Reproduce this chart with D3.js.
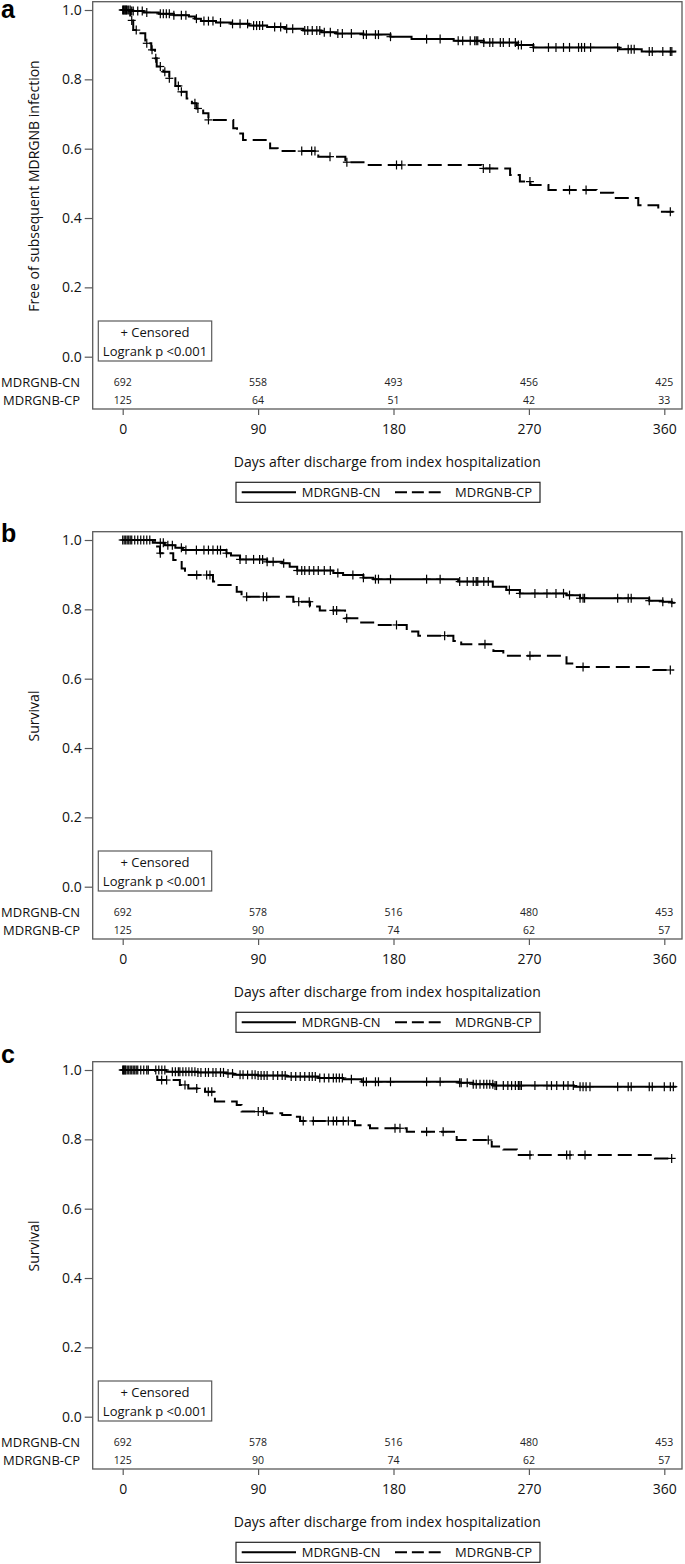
<!DOCTYPE html>
<html>
<head>
<meta charset="utf-8">
<script src="https://cdn.jsdelivr.net/npm/d3@7"></script>
<style>
  html, body { margin: 0; padding: 0; background: #fff; }
  svg { display: block; }
  text { font-family: "Open Sans", "Noto Sans", sans-serif; fill: #111; }
</style>
</head>
<body>
<svg id="chart" width="685" height="1564"></svg>
<script>
// ---------------- DATA ----------------
const panelLabels = ["a", "b", "c"];
const yTitles = ["Free of subsequent MDRGNB infection", "Survival", "Survival"];
const xTickValues = [0, 90, 180, 270, 360];
const yTickValues = [0, 0.2, 0.4, 0.6, 0.8, 1.0];
const groupNames = ["MDRGNB-CN", "MDRGNB-CP"];
const xTitle = "Days after discharge from index hospitalization";
const boxLines = ["+ Censored", "Logrank p <0.001"];

// numbers at risk
const atRiskA_CN = [692, 558, 493, 456, 425];
const atRiskA_CP = [125, 64, 51, 42, 33];
const atRiskB_CN = [692, 578, 516, 480, 453];
const atRiskB_CP = [125, 90, 74, 62, 57];
const atRiskC_CN = [692, 578, 516, 480, 453];
const atRiskC_CP = [125, 90, 74, 62, 57];

// Panel a – MDRGNB-CN
const timesA_CN = [0, 6, 14, 24, 34, 44, 48, 52, 62, 72, 84, 96, 108, 120, 132, 142, 160, 178, 192, 220, 240, 262, 273, 330, 345];
const survA_CN  = [1.0, 0.997, 0.993, 0.989, 0.985, 0.981, 0.975, 0.968, 0.964, 0.960, 0.955, 0.951, 0.946, 0.941, 0.936, 0.932, 0.929, 0.923, 0.916, 0.911, 0.906, 0.899, 0.892, 0.887, 0.880];
const censA_CN  = [0, 0.5, 1, 1.5, 2, 2.5, 3, 4, 5, 6, 7, 10, 13, 16, 25, 27, 29, 31, 34, 39, 42, 49, 54, 57, 60, 65, 73, 78, 83, 87, 89, 91, 93, 101, 105, 109, 113, 121, 123, 126, 129, 131, 134, 138, 143, 146, 152, 160, 162, 168, 170, 178, 202, 211, 223, 226, 231, 234, 235, 236, 240, 244, 246, 251, 253, 257, 261, 263, 265, 273, 283, 288, 293, 297, 303, 305, 307, 311, 329, 336, 338, 340, 350, 352, 359, 364, 365];
const endA_CN = 368;

// Panel a – MDRGNB-CP
const timesA_CP = [0, 5, 7, 10, 15, 19, 21.5, 22.6, 27, 31, 35, 39, 42.5, 46, 49, 53.5, 57, 73.5, 76, 80, 98, 103, 130, 148, 162, 238.6, 257.5, 264, 271, 283, 315, 326, 342.7, 356];
const survA_CP  = [1.0, 0.97, 0.942, 0.933, 0.904, 0.885, 0.861, 0.837, 0.822, 0.803, 0.781, 0.764, 0.745, 0.731, 0.716, 0.702, 0.683, 0.659, 0.644, 0.625, 0.601, 0.593, 0.577, 0.561, 0.553, 0.543, 0.524, 0.505, 0.495, 0.481, 0.473, 0.458, 0.437, 0.418];
const censA_CP  = [6, 9, 16, 19.5, 22, 25, 28, 31, 37, 39, 48, 50, 57, 119, 125.6, 127.8, 137.8, 149, 182, 185.5, 239.7, 244, 270.7, 297, 308, 364];
const endA_CP = 366;

// Panel b – MDRGNB-CN
const timesB_CN = [0, 20, 28, 35, 40, 69, 72, 78, 96, 106, 111, 116, 140, 146.5, 160, 166.6, 223, 246, 255, 264, 295, 304, 350, 359, 365];
const survB_CN  = [1.0, 0.992, 0.985, 0.978, 0.971, 0.962, 0.955, 0.944, 0.937, 0.933, 0.923, 0.912, 0.905, 0.899, 0.891, 0.887, 0.880, 0.865, 0.856, 0.846, 0.841, 0.832, 0.825, 0.822, 0.819];
const censB_CN  = [0, 1, 2, 3, 4, 5, 6, 8, 10, 12, 14, 16, 18, 25, 27, 30, 33, 39, 42, 49, 54, 57, 60, 63, 65, 69, 78, 82, 87, 91, 93, 96, 100, 107, 116, 119, 121, 124, 127, 130, 134, 138, 143, 153, 160, 168, 170, 178, 202, 211, 224, 229, 233, 235, 236, 240, 243, 257, 264, 274, 282, 288, 293, 297, 304, 306, 307, 329, 336, 338, 350, 359, 365];
const endB_CN = 367;

// Panel b – MDRGNB-CP
const timesB_CP = [0, 21.5, 24.8, 33.6, 39.2, 41.4, 60, 63.6, 75.8, 79, 113.4, 124.5, 131, 147.8, 157.7, 168.8, 188.8, 196.5, 219.8, 225, 246.4, 253, 295, 299.5, 352.7];
const survB_CP  = [1.0, 0.981, 0.962, 0.942, 0.918, 0.899, 0.880, 0.870, 0.851, 0.836, 0.822, 0.808, 0.797, 0.774, 0.762, 0.755, 0.736, 0.724, 0.709, 0.699, 0.680, 0.666, 0.644, 0.634, 0.625];
const censB_CP  = [25, 49.2, 55.8, 58, 82.4, 93.5, 95.7, 117, 124, 140, 142.2, 148.9, 182, 214, 240.8, 270.7, 306, 364];
const endB_CP = 366;

// Panel c – MDRGNB-CN
const timesC_CN = [0, 29, 50, 69, 73.5, 90, 109, 130, 146.5, 158.9, 224, 233, 246.4, 300];
const survC_CN  = [1.0, 0.995, 0.993, 0.990, 0.986, 0.984, 0.981, 0.977, 0.973, 0.966, 0.963, 0.959, 0.955, 0.952];
const censC_CN  = [0, 0.5, 1, 1.5, 2, 3, 4, 5, 6, 7, 8, 9, 10, 12, 14, 16, 17, 22, 24, 26, 28, 33, 35, 37, 38, 40, 42, 44, 46, 48, 50, 52, 55, 57, 60, 62, 65, 67, 70, 73, 78, 80, 83, 86, 88, 90, 92, 94, 96, 100, 103, 106, 108, 112, 115, 118, 121, 124, 126, 128, 131, 134, 137, 140, 142, 144, 146, 152, 160, 162, 168, 170, 178, 202, 211, 224, 225, 229, 233, 235, 237.5, 240, 242, 244, 246, 247.5, 248.5, 253, 256, 258.5, 261, 263, 264, 265, 274, 282, 285, 288.5, 293, 296, 299.5, 304, 306, 308, 310.6, 329, 336, 338, 350, 352, 360, 364, 366];
const endC_CN = 368;

// Panel c – MDRGNB-CP
const timesC_CP = [0, 21.5, 23, 38, 43.6, 54.7, 61.3, 75.8, 79, 95.7, 106, 113.4, 117.9, 154.4, 164.4, 188.8, 222, 245.3, 253, 262, 353.8];
const survC_CP  = [1.0, 0.981, 0.971, 0.957, 0.947, 0.937, 0.909, 0.899, 0.880, 0.875, 0.870, 0.865, 0.853, 0.841, 0.832, 0.822, 0.798, 0.779, 0.771, 0.755, 0.745];
const censC_CP  = [25.9, 29.2, 41.4, 49.2, 56.9, 59.2, 90.1, 93.5, 120, 126.7, 136.7, 140, 142.2, 146.6, 150, 181, 184.3, 202, 213, 243, 270.7, 295.1, 297.3, 307.3, 364.9];
const endC_CP = 366;

// ---------------- BUILD ----------------
const panels = [
  { label: panelLabels[0], yTitle: yTitles[0], risk: [atRiskA_CN, atRiskA_CP],
    curves: [
      { times: timesA_CN, surv: survA_CN, cens: censA_CN, end: endA_CN, dashed: false },
      { times: timesA_CP, surv: survA_CP, cens: censA_CP, end: endA_CP, dashed: true } ] },
  { label: panelLabels[1], yTitle: yTitles[1], risk: [atRiskB_CN, atRiskB_CP],
    curves: [
      { times: timesB_CN, surv: survB_CN, cens: censB_CN, end: endB_CN, dashed: false },
      { times: timesB_CP, surv: survB_CP, cens: censB_CP, end: endB_CP, dashed: true } ] },
  { label: panelLabels[2], yTitle: yTitles[2], risk: [atRiskC_CN, atRiskC_CP],
    curves: [
      { times: timesC_CN, surv: survC_CN, cens: censC_CN, end: endC_CN, dashed: false },
      { times: timesC_CP, surv: survC_CP, cens: censC_CP, end: endC_CP, dashed: true } ] }
];

// layout
const panelOffsets = [0, 530, 1060];
const labelBaselines = [18, 542, 1063];
const frame = { left: 92.7, right: 682, top: 1.7, bottom: 409 };
const frameColor = "#5a5a5a";
const DASH = "14,6";

const svg = d3.select("#chart");
const x = d3.scaleLinear().domain([0, 360]).range([122.7, 664.3]);

function survAt(times, surv, t) {
  const i = d3.bisectRight(times, t) - 1;
  return surv[Math.max(0, i)];
}

panels.forEach((p, pi) => {
  const oy = panelOffsets[pi];
  const g = svg.append("g").attr("transform", `translate(0,${oy})`);
  const y = d3.scaleLinear().domain([0, 1]).range([356.7, 10]);

  // panel label
  svg.append("text")
    .attr("x", 1).attr("y", labelBaselines[pi])
    .style("font-family", "'Liberation Sans', Arial, sans-serif")
    .style("font-weight", "bold").style("font-size", "25px")
    .style("fill", "#000")
    .text(p.label);

  // frame
  g.append("rect")
    .attr("x", frame.left).attr("y", frame.top)
    .attr("width", frame.right - frame.left).attr("height", frame.bottom - frame.top)
    .attr("fill", "none").attr("stroke", frameColor).attr("stroke-width", 1.3);

  // y axis
  const yAxis = d3.axisLeft(y).tickValues(yTickValues).tickFormat(d3.format(".1f")).tickSize(8).tickPadding(3);
  const ya = g.append("g").attr("transform", `translate(${frame.left},0)`).call(yAxis);
  ya.select(".domain").remove();
  ya.selectAll(".tick line").attr("stroke", frameColor).attr("stroke-width", 1.2);
  ya.selectAll(".tick text").style("font-size", "14px").style("font-family", "'Open Sans', sans-serif").attr("fill", "#111");

  // x axis
  const xAxis = d3.axisBottom(x).tickValues(xTickValues).tickFormat(d3.format("d")).tickSize(6).tickPadding(9);
  const xa = g.append("g").attr("transform", `translate(0,${frame.bottom})`).call(xAxis);
  xa.select(".domain").remove();
  xa.selectAll(".tick line").attr("stroke", frameColor).attr("stroke-width", 1.2);
  xa.selectAll(".tick text").style("font-size", "14px").style("font-family", "'Open Sans', sans-serif").attr("fill", "#111");

  // y title
  g.append("text")
    .attr("transform", `translate(33,186) rotate(-90)`)
    .attr("text-anchor", "middle").attr("dominant-baseline", "central")
    .style("font-size", "14px")
    .text(p.yTitle);

  // x title
  g.append("text")
    .attr("x", (frame.left + frame.right) / 2).attr("y", 461)
    .attr("text-anchor", "middle").attr("dominant-baseline", "central")
    .style("font-size", "14px")
    .text(xTitle);

  // curves
  const line = d3.line().x(d => x(d[0])).y(d => y(d[1])).curve(d3.curveStepAfter);
  p.curves.forEach(c => {
    const pts = c.times.map((t, i) => [t, c.surv[i]]);
    pts.push([c.end, c.surv[c.surv.length - 1]]);
    g.append("path")
      .attr("d", line(pts))
      .attr("fill", "none").attr("stroke", "#000").attr("stroke-width", 2)
      .attr("stroke-dasharray", c.dashed ? DASH : null);
    const marks = g.append("g");
    c.cens.forEach(t => {
      const cx = x(t), cy = y(survAt(c.times, c.surv, t));
      marks.append("line").attr("x1", cx).attr("x2", cx).attr("y1", cy - 4.5).attr("y2", cy + 4.5)
        .attr("stroke", "#000").attr("stroke-width", 1.2);
      marks.append("line").attr("x1", cx - 4).attr("x2", cx + 4).attr("y1", cy).attr("y2", cy)
        .attr("stroke", "#000").attr("stroke-width", 1.2);
    });
  });

  // censored / logrank box
  g.append("rect").attr("x", 98.3).attr("y", 321).attr("width", 113.4).attr("height", 40)
    .attr("fill", "#fff").attr("stroke", frameColor).attr("stroke-width", 1.2);
  g.append("text").attr("x", 155).attr("y", 331.7).attr("text-anchor", "middle")
    .attr("dominant-baseline", "central").style("font-size", "13px").text(boxLines[0]);
  g.append("text").attr("x", 155).attr("y", 350.7).attr("text-anchor", "middle")
    .attr("dominant-baseline", "central").style("font-size", "13px").text(boxLines[1]);

  // at-risk table
  const rowY = [381.7, 400];
  groupNames.forEach((name, gi) => {
    g.append("text").attr("x", 80).attr("y", rowY[gi]).attr("text-anchor", "end")
      .attr("dominant-baseline", "central").style("font-size", "13px").text(name);
    p.risk[gi].forEach((n, ti) => {
      g.append("text").attr("x", x(xTickValues[ti])).attr("y", rowY[gi])
        .attr("text-anchor", "middle").attr("dominant-baseline", "central")
        .style("font-size", "10.5px").style("fill", "#222").text(n);
    });
  });

  // legend
  const lg = g.append("g");
  lg.append("rect").attr("x", 236).attr("y", 482.3).attr("width", 304).attr("height", 20)
    .attr("fill", "#fff").attr("stroke", "#222").attr("stroke-width", 1.2);
  lg.append("line").attr("x1", 241.7).attr("x2", 296).attr("y1", 492.3).attr("y2", 492.3)
    .attr("stroke", "#000").attr("stroke-width", 2);
  lg.append("text").attr("x", 301.7).attr("y", 492.3).attr("dominant-baseline", "central")
    .style("font-size", "13px").text(groupNames[0]);
  lg.append("line").attr("x1", 395).attr("x2", 440.7).attr("y1", 492.3).attr("y2", 492.3)
    .attr("stroke", "#000").attr("stroke-width", 2).attr("stroke-dasharray", "12,4.85");
  lg.append("text").attr("x", 455).attr("y", 492.3).attr("dominant-baseline", "central")
    .style("font-size", "13px").text(groupNames[1]);
});
</script>
</body>
</html>
